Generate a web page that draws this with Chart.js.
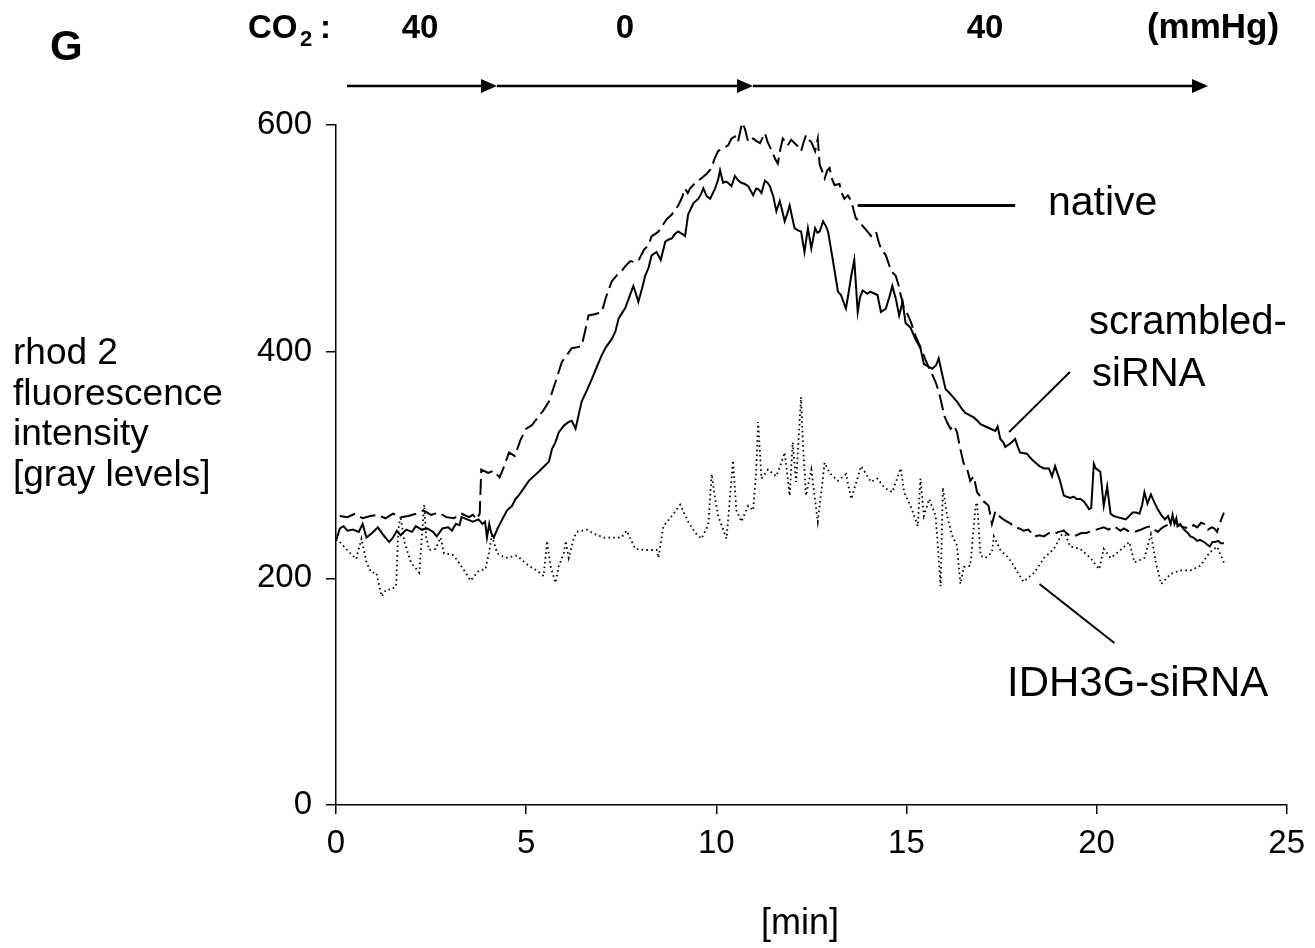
<!DOCTYPE html>
<html lang="en">
<head>
<meta charset="UTF-8">
<title>rhod 2 fluorescence - CO2 steps</title>
<script src="https://cdn.jsdelivr.net/npm/chart.js"></script>
<style>
  html, body { margin: 0; padding: 0; background: #fff; }
  #wrap { width: 1315px; height: 948px; }
</style>
</head>
<body>
<div id="wrap"><canvas id="chart" width="1315" height="948"></canvas></div>
<script>
// native (dashed)
const nativeTime = [0.1,0.3,0.5,0.7,0.9,1.1,1.3,1.5,1.7,1.9,2.1,2.3,2.5,2.7,2.9,3.1,3.3,3.5,3.6,3.7,3.78,3.82,4.0,4.15,4.3,4.4,4.55,4.7,4.85,5.0,5.15,5.33,5.45,5.6,5.75,5.94,6.05,6.2,6.35,6.46,6.55,6.64,6.8,6.99,7.1,7.25,7.4,7.51,7.62,7.74,7.85,7.95,8.1,8.22,8.3,8.4,8.48,8.6,8.7,8.83,9.0,9.1,9.18,9.25,9.31,9.45,9.61,9.75,9.88,9.95,10.05,10.2,10.31,10.4,10.49,10.57,10.68,10.75,10.84,10.97,11.05,11.15,11.28,11.35,11.45,11.55,11.62,11.68,11.75,11.82,11.88,11.97,12.06,12.15,12.23,12.3,12.36,12.43,12.5,12.6,12.67,12.72,12.8,12.85,12.92,12.98,13.05,13.11,13.24,13.3,13.37,13.46,13.55,13.62,13.67,13.8,13.9,14.0,14.07,14.2,14.27,14.33,14.46,14.53,14.6,14.72,14.8,14.85,14.94,15.03,15.11,15.24,15.33,15.42,15.5,15.6,15.68,15.77,15.85,15.9,16.0,16.08,16.16,16.25,16.33,16.42,16.5,16.6,16.68,16.77,16.86,16.95,17.03,17.16,17.25,17.34,17.47,17.55,17.65,17.75,17.86,17.97,18.08,18.21,18.36,18.5,18.62,18.75,18.88,19.0,19.14,19.31,19.48,19.6,19.74,19.87,20.0,20.19,20.32,20.45,20.55,20.63,20.72,20.82,21.0,21.17,21.3,21.43,21.52,21.61,21.7,21.8,21.92,22.05,22.17,22.3,22.45,22.55,22.65,22.75,22.83,22.93,23.03,23.1,23.17,23.28,23.35];
const nativeValues = [255,254,257,253,255,256,253,257,254,255,257,260,256,258,254,253,257,254,256,252,257,296,293,295,289,297,311,308,322,332,335,343,348,356,371,391,396,403,404,405,418,432,433,435,448,462,468,471,476,480,479,480,490,494,502,504,506,512,517,521,529,536,544,540,544,549,553,557,562,570,577,580,582,588,590,585,602,597,585,588,586,584,593,585,578,570,566,578,588,585,582,587,584,581,577,585,591,587,585,577,588,565,558,553,560,562,552,547,548,540,535,538,533,524,518,513,509,505,502,506,497,491,485,478,471,467,458,450,438,433,427,414,407,400,393,385,380,373,365,358,343,337,332,335,329,314,302,296,286,290,276,272,268,264,248,259,254,252,250,248,245,244,242,243,237,238,237,240,239,241,242,237,238,240,240,242,243,245,243,246,244,242,244,242,241,243,245,246,243,241,244,246,248,250,247,245,244,247,245,249,248,243,245,244,241,252,258];

// scrambled-siRNA (solid)
const scrambledTime = [0.0,0.1,0.2,0.3,0.45,0.6,0.7,0.8,0.95,1.1,1.25,1.4,1.5,1.6,1.7,1.85,2.0,2.1,2.25,2.4,2.55,2.65,2.8,2.95,3.05,3.15,3.25,3.3,3.45,3.6,3.75,3.85,3.92,3.97,4.03,4.08,4.15,4.25,4.37,4.5,4.63,4.72,4.8,4.95,5.07,5.2,5.33,5.45,5.6,5.68,5.77,5.86,6.0,6.12,6.2,6.3,6.38,6.46,6.6,6.73,6.85,6.99,7.1,7.25,7.35,7.43,7.52,7.6,7.7,7.82,7.88,7.95,8.05,8.13,8.22,8.3,8.43,8.54,8.66,8.75,8.83,8.92,9.0,9.1,9.18,9.26,9.4,9.53,9.6,9.66,9.75,9.84,9.97,10.05,10.1,10.18,10.25,10.31,10.4,10.49,10.58,10.66,10.75,10.84,10.97,11.05,11.12,11.19,11.28,11.35,11.41,11.5,11.58,11.67,11.73,11.8,11.87,11.93,12.0,12.06,12.15,12.23,12.32,12.41,12.5,12.6,12.66,12.72,12.81,12.88,12.94,13.0,13.07,13.2,13.28,13.41,13.48,13.55,13.63,13.72,13.78,13.85,13.98,14.05,14.11,14.24,14.33,14.46,14.55,14.63,14.72,14.81,14.9,14.98,15.05,15.11,15.24,15.37,15.46,15.57,15.68,15.78,15.85,15.94,16.03,16.12,16.2,16.33,16.45,16.55,16.66,16.77,16.87,16.95,17.08,17.21,17.34,17.4,17.47,17.55,17.6,17.73,17.86,17.93,17.99,18.17,18.27,18.36,18.5,18.62,18.75,18.83,18.91,18.98,19.05,19.14,19.22,19.31,19.4,19.48,19.58,19.66,19.75,19.8,19.86,19.93,19.98,20.1,20.19,20.28,20.37,20.45,20.55,20.66,20.77,20.86,20.95,21.05,21.13,21.2,21.26,21.34,21.43,21.52,21.61,21.7,21.8,21.88,21.95,22.0,22.05,22.1,22.13,22.2,22.3,22.4,22.47,22.55,22.65,22.72,22.83,22.9,22.98,23.05,23.12,23.2,23.27,23.35];
const scrambledValues = [233,244,246,242,243,241,248,236,240,245,238,232,236,242,238,243,241,246,243,244,241,237,244,245,242,248,247,254,252,250,252,248,250,236,248,240,236,244,252,260,264,270,273,280,286,290,294,298,303,314,320,329,335,338,339,332,344,356,366,376,386,397,404,411,418,429,434,438,447,458,452,444,456,467,474,485,488,481,497,499,500,504,506,504,502,521,531,535,539,544,537,535,544,552,560,549,550,549,546,555,551,549,548,546,538,544,543,540,551,549,546,537,524,533,525,515,522,529,518,509,507,506,488,509,491,509,505,506,515,511,506,494,480,453,450,438,452,467,481,435,448,454,451,453,452,450,435,438,448,458,447,432,444,425,423,421,411,403,389,387,385,388,394,380,367,364,361,356,350,346,344,342,339,336,334,332,330,334,323,320,316,319,323,316,311,310,306,303,299,297,297,290,299,292,285,273,272,271,272,270,270,268,264,261,262,301,297,294,264,281,257,255,254,253,252,255,258,258,257,265,276,266,274,267,261,256,252,255,248,256,248,253,246,248,243,240,237,236,233,234,232,230,228,232,232,233,231,231];

// IDH3G-siRNA (dotted)
const idh3gTime = [0.1,0.35,0.53,0.67,0.8,0.93,1.06,1.2,1.32,1.45,1.58,1.64,1.7,1.8,1.97,2.19,2.32,2.37,2.45,2.62,2.75,2.84,3.06,3.19,3.41,3.54,3.76,3.93,4.02,4.1,4.24,4.46,4.76,5.07,5.28,5.46,5.55,5.64,5.77,5.86,5.99,6.04,6.12,6.25,6.33,6.59,6.81,7.04,7.25,7.51,7.64,7.87,8.13,8.43,8.48,8.61,8.83,9.05,9.15,9.26,9.45,9.61,9.79,9.88,9.97,10.05,10.27,10.44,10.53,10.66,10.84,10.97,11.05,11.1,11.19,11.36,11.58,11.71,11.8,11.93,12.01,12.1,12.23,12.28,12.36,12.5,12.67,12.85,12.98,13.2,13.41,13.55,13.81,14.07,14.24,14.42,14.63,14.85,14.94,15.11,15.3,15.37,15.46,15.6,15.77,15.9,15.96,16.07,16.2,16.33,16.42,16.51,16.68,16.82,16.86,16.95,17.08,17.25,17.3,17.47,17.69,17.82,18.08,18.36,18.62,18.88,19.14,19.31,19.57,19.84,20.07,20.19,20.37,20.63,20.86,21.0,21.26,21.43,21.56,21.7,21.95,22.21,22.47,22.73,22.98,23.17,23.35];
const idh3gValues = [232,223,217,235,214,205,205,184,190,190,193,243,255,232,214,205,265,237,225,226,236,222,221,216,205,198,207,208,222,238,222,218,220,211,207,202,233,211,196,211,222,233,218,235,241,243,239,236,236,236,242,226,225,225,218,246,255,265,258,250,240,235,247,292,270,255,235,304,260,250,264,260,294,338,288,296,290,302,311,273,320,285,360,318,273,296,250,302,293,286,292,270,299,285,288,280,276,297,276,264,246,288,255,270,255,193,280,255,238,229,195,210,211,264,267,220,218,223,237,225,218,211,197,205,218,226,242,228,226,218,208,226,218,225,232,214,218,239,214,195,204,207,207,211,223,228,214];

const xTicks = [0, 5, 10, 15, 20, 25];
const yTicks = [0, 200, 400, 600];

const FONT = "'Liberation Sans', Arial, Helvetica, sans-serif";

function pairs(t, v) {
  const n = Math.min(t.length, v.length);
  const out = [];
  for (let i = 0; i < n; i++) out.push({ x: t[i], y: v[i] });
  return out;
}

// text, arrows and label leader lines
const decorations = {
  id: "decorations",
  afterDraw(chart) {
    const ctx = chart.ctx;
    const xs = chart.scales.x, ys = chart.scales.y;
    ctx.save();
    ctx.fillStyle = "#000";
    ctx.strokeStyle = "#000";
    ctx.textBaseline = "alphabetic";

    // panel letter and CO2 header
    ctx.font = "bold 42px " + FONT;
    ctx.textAlign = "left";
    ctx.fillText("G", 50, 60);
    ctx.font = "bold 33px " + FONT;
    ctx.fillText("CO", 248, 38);
    ctx.font = "bold 22px " + FONT;
    ctx.fillText("2", 300, 46);
    ctx.font = "bold 33px " + FONT;
    ctx.fillText(":", 320, 38);
    ctx.textAlign = "center";
    ctx.fillText("40", 420, 38);
    ctx.fillText("0", 625, 38);
    ctx.fillText("40", 985, 38);
    ctx.font = "bold 35px " + FONT;
    ctx.fillText("(mmHg)", 1213, 38);

    // arrows for the CO2 periods
    const arrowY = 86;
    const segs = [[347, 497], [497, 753], [753, 1208]];
    ctx.lineWidth = 2.5;
    segs.forEach(([a, b]) => {
      ctx.beginPath();
      ctx.moveTo(a, arrowY);
      ctx.lineTo(b - 14, arrowY);
      ctx.stroke();
      ctx.beginPath();
      ctx.moveTo(b, arrowY);
      ctx.lineTo(b - 16, arrowY - 7);
      ctx.lineTo(b - 16, arrowY + 7);
      ctx.closePath();
      ctx.fill();
    });

    // y axis title
    ctx.font = "37px " + FONT;
    ctx.textAlign = "left";
    ["rhod 2", "fluorescence", "intensity", "[gray levels]"].forEach((s, i) => {
      ctx.fillText(s, 13, 364 + i * 40.5);
    });

    // x axis title
    ctx.font = "36px " + FONT;
    ctx.textAlign = "center";
    ctx.fillText("[min]", 800, 934);

    // series labels
    ctx.font = "41px " + FONT;
    ctx.textAlign = "left";
    ctx.fillText("native", 1048, 215);
    ctx.font = "40px " + FONT;
    ctx.fillText("scrambled-", 1089, 334);
    ctx.fillText("siRNA", 1092, 386);
    ctx.font = "42px " + FONT;
    ctx.fillText("IDH3G-siRNA", 1007, 696);

    // leader lines (in data units)
    const line = (x1, y1, x2, y2, w) => {
      ctx.lineWidth = w;
      ctx.beginPath();
      ctx.moveTo(xs.getPixelForValue(x1), ys.getPixelForValue(y1));
      ctx.lineTo(xs.getPixelForValue(x2), ys.getPixelForValue(y2));
      ctx.stroke();
    };
    line(13.72, 529, 17.86, 529, 3);
    line(17.7, 329, 19.3, 382, 2);
    line(18.5, 195, 20.47, 143, 2);
    ctx.restore();
  }
};

new Chart(document.getElementById("chart"), {
  type: "line",
  data: {
    datasets: [
      {
        label: "native",
        data: pairs(nativeTime, nativeValues),
        borderColor: "#000",
        borderWidth: 2,
        borderDash: [16, 6],
        pointRadius: 0,
        tension: 0
      },
      {
        label: "scrambled-siRNA",
        data: pairs(scrambledTime, scrambledValues),
        borderColor: "#000",
        borderWidth: 2,
        pointRadius: 0,
        tension: 0
      },
      {
        label: "IDH3G-siRNA",
        data: pairs(idh3gTime, idh3gValues),
        borderColor: "#000",
        borderWidth: 1.8,
        borderDash: [1.6, 3.2],
        pointRadius: 0,
        tension: 0
      }
    ]
  },
  options: {
    responsive: false,
    devicePixelRatio: 1,
    animation: false,
    layout: { padding: { left: 0, top: 125, right: 25, bottom: 0 } },
    plugins: {
      legend: { display: false },
      tooltip: { enabled: false },
      title: { display: false }
    },
    scales: {
      x: {
        type: "linear",
        min: 0,
        max: 25,
        afterBuildTicks: (s) => { s.ticks = xTicks.map(v => ({ value: v })); },
        afterFit: (s) => { s.height = 143; },
        ticks: {
          color: "#000",
          font: { family: FONT, size: 33 },
          padding: 10,
          maxRotation: 0
        },
        grid: { drawOnChartArea: false, drawTicks: true, tickLength: 9, color: "#000", lineWidth: 1.5 },
        border: { display: true, color: "#000", width: 1.5 }
      },
      y: {
        min: 0,
        max: 600,
        afterBuildTicks: (s) => { s.ticks = yTicks.map(v => ({ value: v })); },
        afterFit: (s) => { s.width = 336; },
        ticks: {
          color: "#000",
          font: { family: FONT, size: 33 },
          padding: 14
        },
        grid: { drawOnChartArea: false, drawTicks: true, tickLength: 10, color: "#000", lineWidth: 1.5 },
        border: { display: true, color: "#000", width: 1.5 }
      }
    }
  },
  plugins: [decorations]
});
</script>
</body>
</html>
